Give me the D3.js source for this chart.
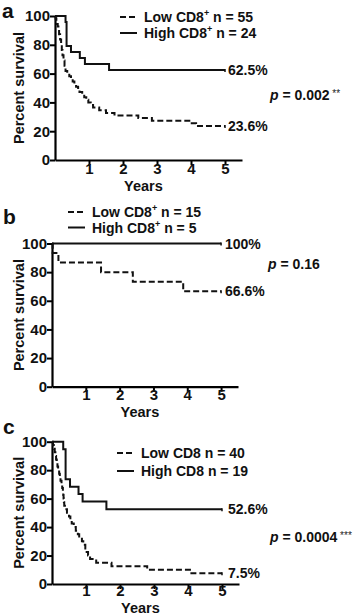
<!DOCTYPE html>
<html lang="en">
<head>
  <meta charset="UTF-8">
  <title>CD8 survival curves</title>
  <script src="https://cdn.jsdelivr.net/npm/d3@7"></script>
  <style>
    body { margin: 0; background: #fff; }
    text { font-family: "Liberation Sans", Arial, sans-serif; fill: #111; }
  </style>
</head>
<body>
  <svg width="358" height="616"></svg>
<script>
  // ticks
  const yearTicks = [1, 2, 3, 4, 5];
  const pctTicks = [0, 20, 40, 60, 80, 100];

  // panel a : event times (years) and survival (%) after each drop
  const aLowTimes = [0.02, 0.04, 0.06, 0.08, 0.10, 0.12, 0.15, 0.18, 0.20, 0.22, 0.25, 0.28, 0.31, 0.36, 0.42, 0.47, 0.52, 0.57, 0.62, 0.68, 0.72, 0.80, 0.86, 0.92, 0.98, 1.05, 1.12, 1.30, 1.50, 1.75, 2.45, 2.85, 3.95, 4.15];
  const aLowSurv  = [98.2, 96.4, 94.5, 92.7, 90.9, 87.3, 83.6, 80.0, 76.4, 72.7, 69.1, 65.5, 61.8, 60.0, 58.2, 56.4, 54.5, 52.7, 50.9, 49.1, 47.3, 45.5, 43.6, 41.8, 40.0, 38.2, 36.4, 34.5, 32.7, 30.9, 29.1, 27.3, 25.5, 23.6];
  const aHighTimes = [0.31, 0.34, 0.47, 0.73, 0.88, 1.59];
  const aHighSurv  = [95.8, 79.2, 75.0, 70.8, 66.7, 62.5];

  // panel b
  const bLowTimes = [0.02, 0.19, 1.45, 2.39, 3.88];
  const bLowSurv  = [93.3, 86.7, 80.0, 73.3, 66.6];
  const bHighTimes = [];
  const bHighSurv  = [];

  // panel c
  const cLowTimes = [0.03, 0.06, 0.08, 0.10, 0.12, 0.14, 0.16, 0.18, 0.21, 0.23, 0.25, 0.28, 0.30, 0.32, 0.33, 0.34, 0.35, 0.36, 0.38, 0.44, 0.50, 0.54, 0.58, 0.64, 0.70, 0.76, 0.80, 0.88, 0.92, 0.98, 1.02, 1.06, 1.12, 1.30, 1.75, 2.80, 4.10];
  const cLowSurv  = [97.5, 95, 92.5, 90, 87.5, 85, 82.5, 80, 77.5, 75, 72.5, 70, 67.5, 65, 62.5, 60, 57.5, 55, 52.5, 50, 47.5, 45, 42.5, 40, 37.5, 35, 32.5, 30, 27.5, 25, 22.5, 20, 17.5, 15, 12.5, 10, 7.5];
  const cHighTimes = [0.33, 0.40, 0.53, 0.78, 0.90, 1.60];
  const cHighSurv  = [94.7, 73.7, 68.4, 63.2, 57.9, 52.6];

  const svg = d3.select("svg");

  const panels = [
    {
      letter: "a", letterX: 2, letterY: 18,
      x0: 55, x1: 242, y0: 160, y1: 16, yearsDy: 31, tickDy: 3,
      low: [aLowTimes, aLowSurv], high: [aHighTimes, aHighSurv],
      legX: 120, legY: 17, legGap: 16, sup: true, n: ["55", "24"], highSpace: " ",
      lowLabel: "23.6%", highLabel: "62.5%", labelX: 228,
      p: "0.002", stars: "**", pX: 270, pY: 100
    },
    {
      letter: "b", letterX: 3, letterY: 224,
      x0: 52, x1: 238, y0: 386.7, y1: 243.5, yearsDy: 30, tickDy: 3,
      low: [bLowTimes, bLowSurv], high: [bHighTimes, bHighSurv],
      legX: 68, legY: 212, legGap: 15.5, sup: true, n: ["15", "5"], highSpace: "  ",
      lowLabel: "66.6%", highLabel: "100%", labelX: 225,
      p: "0.16", stars: "", pX: 268, pY: 269
    },
    {
      letter: "c", letterX: 3, letterY: 434,
      x0: 52, x1: 239, y0: 584, y1: 441.7, yearsDy: 29, tickDy: 1,
      low: [cLowTimes, cLowSurv], high: [cHighTimes, cHighSurv],
      legX: 117, legY: 453, legGap: 18, sup: false, n: ["40", "19"], highSpace: " ",
      lowLabel: "7.5%", highLabel: "52.6%", labelX: 228,
      p: "0.0004", stars: "***", pX: 270, pY: 542
    }
  ];

  function toPoints(times, surv) {
    const pts = [{ t: 0, s: 100 }];
    times.forEach((t, i) => pts.push({ t: t, s: surv[i] }));
    pts.push({ t: 5, s: surv.length ? surv[surv.length - 1] : 100 });
    return pts;
  }

  panels.forEach(p => {
    const g = svg.append("g");
    const x = d3.scaleLinear().domain([0, 5.5]).range([p.x0, p.x1]);
    const y = d3.scaleLinear().domain([0, 100]).range([p.y0, p.y1]);

    // panel letter
    g.append("text")
      .attr("x", p.letterX).attr("y", p.letterY)
      .attr("font-size", "21px").attr("font-weight", "bold")
      .text(p.letter);

    // y axis
    const ya = g.append("g")
      .attr("transform", `translate(${p.x0},0)`)
      .call(d3.axisLeft(y).tickValues(pctTicks).tickSize(5).tickSizeOuter(0));
    ya.select(".domain").attr("stroke-width", 2.2);
    ya.selectAll(".tick line").attr("stroke-width", 2);
    ya.selectAll(".tick text")
      .attr("font-size", "15px").attr("font-weight", "bold")
      .attr("font-family", "Liberation Sans, Arial, sans-serif").attr("fill", "#111")
      .attr("x", -5);

    // x axis
    const xa = g.append("g")
      .attr("transform", `translate(0,${p.y0})`)
      .call(d3.axisBottom(x).tickValues(yearTicks).tickFormat(d3.format("d"))
        .tickSize(5).tickSizeOuter(0));
    xa.select(".domain").attr("stroke-width", 2.2);
    xa.selectAll(".tick line").attr("stroke-width", 2);
    xa.selectAll(".tick text")
      .attr("font-size", "15px").attr("font-weight", "bold")
      .attr("font-family", "Liberation Sans, Arial, sans-serif").attr("fill", "#111")
      .attr("y", p.tickDy);

    // axis titles
    g.append("text")
      .attr("transform", `translate(24,${(p.y0 + p.y1) / 2}) rotate(-90)`)
      .attr("text-anchor", "middle")
      .attr("font-size", "14.5px").attr("font-weight", "bold")
      .text("Percent survival");
    g.append("text")
      .attr("x", x(2.6)).attr("y", p.y0 + p.yearsDy)
      .attr("text-anchor", "middle")
      .attr("font-size", "14.5px").attr("font-weight", "bold")
      .text("Years");

    // curves
    const line = d3.line().curve(d3.curveStepAfter)
      .x(d => x(d.t)).y(d => y(d.s));
    const curves = [
      { pts: toPoints(p.high[0], p.high[1]), dash: null },
      { pts: toPoints(p.low[0], p.low[1]), dash: "6,3" }
    ];
    curves.forEach(c => {
      g.append("path")
        .attr("d", line(c.pts))
        .attr("fill", "none").attr("stroke", "#111").attr("stroke-width", 2)
        .attr("stroke-dasharray", c.dash);
      const last = c.pts[c.pts.length - 1];
      g.append("line")
        .attr("x1", x(last.t)).attr("x2", x(last.t))
        .attr("y1", y(last.s) - 1).attr("y2", y(last.s) + 2)
        .attr("stroke", "#111").attr("stroke-width", 1.5);
    });

    // end labels
    g.append("text")
      .attr("x", p.labelX).attr("y", y(p.high[1].length ? p.high[1][p.high[1].length - 1] : 100) + 5)
      .attr("font-size", "14px").attr("font-weight", "bold").text(p.highLabel);
    g.append("text")
      .attr("x", p.labelX).attr("y", y(p.low[1][p.low[1].length - 1]) + 5)
      .attr("font-size", "14px").attr("font-weight", "bold").text(p.lowLabel);

    // legend
    const names = ["Low", "High"];
    names.forEach((nm, i) => {
      const ly = p.legY + i * p.legGap;
      g.append("line")
        .attr("x1", p.legX).attr("x2", p.legX + 17)
        .attr("y1", ly).attr("y2", ly)
        .attr("stroke", "#111").attr("stroke-width", 2)
        .attr("stroke-dasharray", i === 0 ? "6,3" : null);
      const t = g.append("text")
        .attr("x", p.legX + 24).attr("y", ly + 5)
        .attr("font-size", "14px").attr("font-weight", "bold");
      t.append("tspan").text(nm + " CD8");
      if (p.sup) {
        t.append("tspan").attr("font-size", "9px").attr("dy", -6).text("+");
        t.append("tspan").attr("dy", 6).text((i === 1 ? p.highSpace : " ") + "n = " + p.n[i]);
      } else {
        t.append("tspan").text(" n = " + p.n[i]);
      }
    });

    // p value
    const pt = g.append("text")
      .attr("x", p.pX).attr("y", p.pY)
      .attr("font-size", "14px").attr("font-weight", "bold");
    pt.append("tspan").attr("font-style", "italic").text("p");
    pt.append("tspan").text(" = " + p.p);
    if (p.stars) {
      pt.append("tspan").attr("font-size", "10px").attr("font-weight", "normal")
        .attr("dy", -3).attr("fill", "#222").text(" " + p.stars);
    }
  });
</script>
</body>
</html>
